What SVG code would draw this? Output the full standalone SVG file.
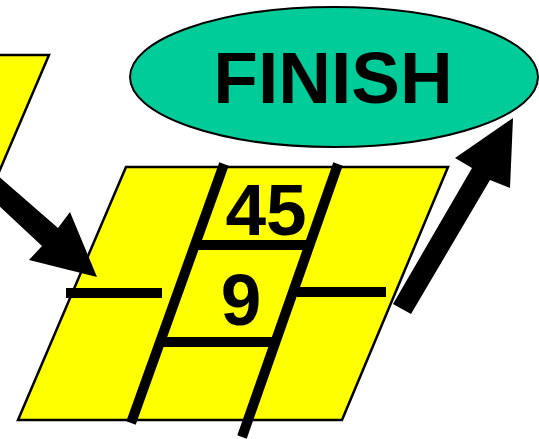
<svg xmlns="http://www.w3.org/2000/svg" width="539" height="439" viewBox="0 0 539 439">
<style>
.board{fill:#FFFF00;stroke:#000;stroke-width:2.5;stroke-linejoin:miter}
.bar{stroke:#000;stroke-width:10;stroke-linecap:butt;fill:none}
.lbl{font-family:"Liberation Sans",Arial,sans-serif;font-weight:bold;fill:#000;text-anchor:middle}
.arrow{fill:#000;stroke:none}
</style>
<rect width="539" height="439" fill="#fff"/>
<g id="left-board">
<polygon class="board" points="-250,55 49,55 -60,310 -360,310"/>
</g>
<g id="finish">
<ellipse cx="334" cy="77" rx="204" ry="70" fill="#00CC99" stroke="#000" stroke-width="2"/>
<text class="lbl" x="333" y="103" font-size="73">FINISH</text>
</g>
<g id="board">
<polygon class="board" points="126,167 448,167 342,420 18,420"/>
<line class="bar" x1="224" y1="164" x2="131" y2="423"/>
<line class="bar" x1="338" y1="164" x2="242" y2="437"/>
<line class="bar" x1="195" y1="245" x2="309" y2="245"/>
<line class="bar" x1="160" y1="342" x2="275" y2="342"/>
<line class="bar" x1="66" y1="293" x2="162" y2="293"/>
<line class="bar" x1="297" y1="292" x2="386" y2="292"/>
<text class="lbl" x="266" y="235" font-size="73">45</text>
<text class="lbl" x="241" y="325" font-size="73">9</text>
</g>
<g id="connectors">
<polygon class="arrow" points="-20,160 58,228 70,212 97,277 29,260 42,246 -20,188"/>
<polygon class="arrow" points="393,304 472,168 455,158 513,118 510,188 490,180 411,314"/>
</g>
</svg>
